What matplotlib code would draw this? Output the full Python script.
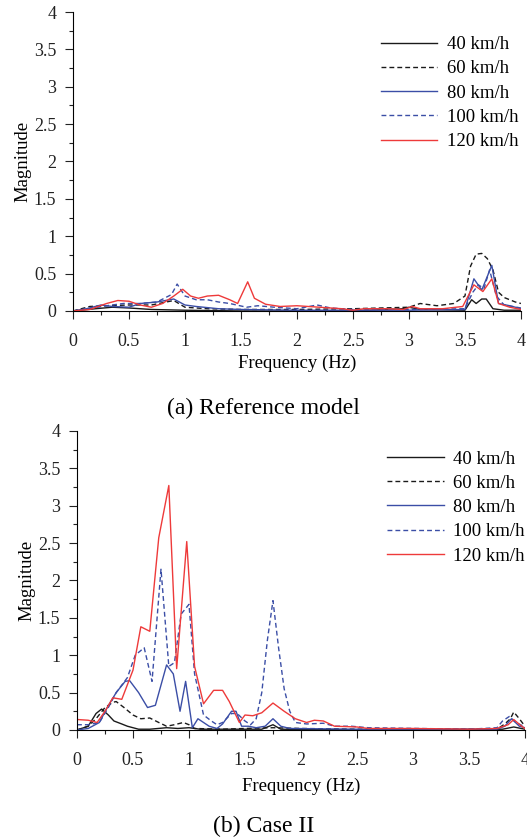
import matplotlib
matplotlib.use('Agg')
import matplotlib.pyplot as plt
import numpy as np
from matplotlib.ticker import MultipleLocator

plt.rcParams['font.family'] = ['Liberation Serif', 'DejaVu Serif']

labels = ['40 km/h', '60 km/h', '80 km/h', '100 km/h', '120 km/h']
colors = ['#1a1a1a', '#1a1a1a', '#3b4ea6', '#3b4ea6', '#ee3a3a']
styles = ['-', '--', '-', '--', '-']

# (a) Reference model -- (frequency, magnitude)
ref_f40 = [0, 0.2, 0.35, 0.5, 0.7, 1.0, 1.5, 2.5, 2.95, 3.0, 3.1, 3.5, 3.56, 3.6, 3.65, 3.69, 3.75, 3.85, 4.0]
ref_m40 = [0, 0.03, 0.05, 0.04, 0.02, 0.01, 0.0, 0.0, 0.03, 0.05, 0.02, 0.01, 0.15, 0.1, 0.16, 0.16, 0.03, 0.01, 0.01]
ref_f60 = [0, 0.15, 0.3, 0.5, 0.7, 0.9, 1.0, 1.2, 1.5, 2.0, 2.5, 3.0, 3.1, 3.25, 3.4, 3.5, 3.55, 3.6, 3.65, 3.7, 3.75, 3.8, 3.85, 3.9, 3.95, 4.0]
ref_m60 = [0, 0.06, 0.07, 0.08, 0.08, 0.14, 0.05, 0.03, 0.02, 0.02, 0.03, 0.05, 0.1, 0.07, 0.1, 0.2, 0.6, 0.76, 0.77, 0.7, 0.55, 0.25, 0.18, 0.15, 0.12, 0.1]
ref_f80 = [0, 0.12, 0.25, 0.35, 0.5, 0.6, 0.75, 0.9, 1.0, 1.1, 1.3, 1.5, 2.0, 3.0, 3.5, 3.58, 3.65, 3.74, 3.8, 3.9, 4.0]
ref_m80 = [0, 0.03, 0.08, 0.06, 0.05, 0.1, 0.12, 0.16, 0.08, 0.06, 0.03, 0.02, 0.01, 0.01, 0.02, 0.43, 0.28, 0.61, 0.1, 0.07, 0.03]
ref_f100 = [0, 0.15, 0.3, 0.45, 0.6, 0.75, 0.88, 0.93, 1.0, 1.1, 1.2, 1.3, 1.4, 1.55, 1.65, 1.8, 2.0, 2.18, 2.3, 2.5, 3.0, 3.5, 3.57, 3.62, 3.67, 3.72, 3.78, 3.85, 4.0]
ref_m100 = [0, 0.03, 0.07, 0.1, 0.1, 0.12, 0.22, 0.36, 0.2, 0.15, 0.15, 0.12, 0.1, 0.05, 0.07, 0.05, 0.03, 0.08, 0.04, 0.02, 0.02, 0.03, 0.25, 0.35, 0.3, 0.55, 0.2, 0.08, 0.04]
ref_f120 = [0, 0.15, 0.3, 0.4, 0.5, 0.6, 0.7, 0.8, 0.9, 0.98, 1.05, 1.12, 1.2, 1.3, 1.4, 1.47, 1.56, 1.62, 1.72, 1.85, 2.0, 2.2, 2.4, 2.5, 2.6, 2.8, 2.95, 3.03, 3.1, 3.3, 3.48, 3.58, 3.66, 3.74, 3.8, 3.9, 4.0]
ref_m120 = [0, 0.02, 0.1, 0.14, 0.13, 0.08, 0.05, 0.1, 0.2, 0.29, 0.2, 0.17, 0.2, 0.21, 0.15, 0.1, 0.39, 0.17, 0.09, 0.06, 0.07, 0.05, 0.03, 0.01, 0.03, 0.03, 0.02, 0.06, 0.03, 0.03, 0.06, 0.35, 0.26, 0.43, 0.1, 0.05, 0.02]

# (b) Case II
c2_f40 = [0, 0.1, 0.17, 0.22, 0.28, 0.33, 0.4, 0.45, 0.55, 0.65, 0.8, 0.9, 1.0, 1.1, 1.65, 1.75, 1.82, 2.5, 3.8, 3.9, 4.0]
c2_m40 = [0, 0.05, 0.22, 0.28, 0.2, 0.12, 0.08, 0.05, 0.01, 0.01, 0.03, 0.02, 0.03, 0.01, 0.01, 0.07, 0.01, 0.0, 0.01, 0.04, 0.01]
c2_f60 = [0, 0.1, 0.17, 0.25, 0.32, 0.35, 0.42, 0.5, 0.57, 0.65, 0.73, 0.8, 0.87, 0.95, 1.0, 1.05, 1.3, 1.5, 1.75, 2.0, 2.5, 3.75, 3.82, 3.87, 3.9, 3.95, 4.0]
c2_m60 = [0, 0.05, 0.15, 0.3, 0.37, 0.38, 0.3, 0.2, 0.15, 0.16, 0.1, 0.05, 0.07, 0.1, 0.07, 0.02, 0.01, 0.02, 0.03, 0.02, 0.01, 0.01, 0.08, 0.15, 0.24, 0.15, 0.05]
c2_f80 = [0, 0.1, 0.2, 0.27, 0.35, 0.43, 0.47, 0.55, 0.63, 0.7, 0.8, 0.86, 0.92, 0.97, 1.03, 1.08, 1.18, 1.25, 1.3, 1.38, 1.42, 1.47, 1.53, 1.6, 1.68, 1.75, 1.82, 1.9, 2.5, 3.75, 3.82, 3.88, 3.95, 4.0]
c2_m80 = [0, 0.02, 0.1, 0.3, 0.5, 0.65, 0.66, 0.5, 0.3, 0.33, 0.87, 0.75, 0.25, 0.65, 0.03, 0.15, 0.05, 0.02, 0.08, 0.25, 0.25, 0.05, 0.05, 0.03, 0.05, 0.15, 0.05, 0.02, 0.01, 0.01, 0.05, 0.15, 0.05, 0.03]
c2_f100 = [0, 0.1, 0.2, 0.28, 0.35, 0.45, 0.52, 0.6, 0.67, 0.75, 0.82, 0.87, 0.93, 1.0, 1.05, 1.13, 1.2, 1.25, 1.3, 1.38, 1.43, 1.5, 1.55, 1.6, 1.65, 1.7, 1.75, 1.8, 1.85, 1.9, 1.95, 2.05, 2.2, 2.3, 2.45, 2.6, 3.5, 3.75, 3.8, 3.86, 3.92, 4.0]
c2_m100 = [0.07, 0.07, 0.1, 0.3, 0.5, 0.7, 1.0, 1.1, 0.65, 2.15, 0.85, 0.9, 1.55, 1.68, 0.75, 0.2, 0.12, 0.07, 0.1, 0.22, 0.22, 0.12, 0.07, 0.15, 0.5, 1.2, 1.73, 1.1, 0.55, 0.25, 0.1, 0.08, 0.09, 0.05, 0.05, 0.03, 0.01, 0.03, 0.12, 0.18, 0.1, 0.04]
c2_f120 = [0, 0.1, 0.18, 0.25, 0.32, 0.4, 0.5, 0.57, 0.65, 0.73, 0.82, 0.89, 0.98, 1.05, 1.13, 1.22, 1.3, 1.36, 1.45, 1.5, 1.57, 1.65, 1.75, 1.85, 1.95, 2.05, 2.12, 2.2, 2.3, 2.5, 2.6, 3.0, 3.5, 3.75, 3.85, 3.9, 3.97, 4.0]
c2_m120 = [0.14, 0.13, 0.1, 0.25, 0.43, 0.41, 0.8, 1.38, 1.32, 2.57, 3.27, 0.82, 2.52, 0.85, 0.35, 0.53, 0.53, 0.38, 0.1, 0.2, 0.19, 0.23, 0.36, 0.25, 0.15, 0.1, 0.13, 0.12, 0.05, 0.04, 0.02, 0.02, 0.01, 0.02, 0.07, 0.14, 0.05, 0.02]

ref_series = [(ref_f40, ref_m40), (ref_f60, ref_m60), (ref_f80, ref_m80), (ref_f100, ref_m100), (ref_f120, ref_m120)]
c2_series = [(c2_f40, c2_m40), (c2_f60, c2_m60), (c2_f80, c2_m80), (c2_f100, c2_m100), (c2_f120, c2_m120)]

fig = plt.figure(figsize=(5.27, 8.4), dpi=100)
ax1 = fig.add_axes([0.1385, 0.6298, 0.850, 0.3559])
ax2 = fig.add_axes([0.1461, 0.1310, 0.850, 0.3560])


def style_axis(ax, series, caption, cap_y, leg_anchor, xlabpad):
    for (f, m), lab, c, ls in zip(series, labels, colors, styles):
        ax.plot(f, m, color=c, linestyle=ls, lw=1.0, label=lab,
                dashes=(3.5, 2.2) if ls == '--' else (None, None))
    ax.set_xlim(0, 4)
    ax.set_ylim(0, 4)
    ax.spines['top'].set_visible(False)
    ax.spines['right'].set_visible(False)
    ax.xaxis.set_major_locator(MultipleLocator(0.5))
    ax.xaxis.set_minor_locator(MultipleLocator(0.25))
    ax.yaxis.set_major_locator(MultipleLocator(0.5))
    ax.yaxis.set_minor_locator(MultipleLocator(0.25))
    ax.xaxis.set_major_formatter(plt.FuncFormatter(lambda v, p: '%g' % v))
    ax.yaxis.set_major_formatter(plt.FuncFormatter(lambda v, p: '%g' % v))
    ax.tick_params(which='major', direction='out', length=6, width=0.8, labelsize=13, pad=10, colors='#222222')
    ax.tick_params(axis='y', which='major', pad=6)
    ax.tick_params(which='minor', direction='out', length=3, width=0.8, colors='#222222')
    ax.set_xlabel('Frequency (Hz)', fontsize=13.5, labelpad=xlabpad)
    ax.set_ylabel('Magnitude', fontsize=13.5, labelpad=2)
    ax.legend(loc='upper right', frameon=False, fontsize=13.5, handlelength=3.0,
              handletextpad=0.5, labelspacing=0.38, borderaxespad=0,
              bbox_to_anchor=leg_anchor)
    fig.text(0.5, cap_y, caption, ha='center', va='center', fontsize=17)


style_axis(ax1, ref_series, '(a) Reference model', 1 - 408 / 840, (1.011, 0.945), 3)
style_axis(ax2, c2_series, '(b) Case II', 1 - 826 / 840, (1.016, 0.96), 6)

fig.savefig('out.png', dpi=100)
